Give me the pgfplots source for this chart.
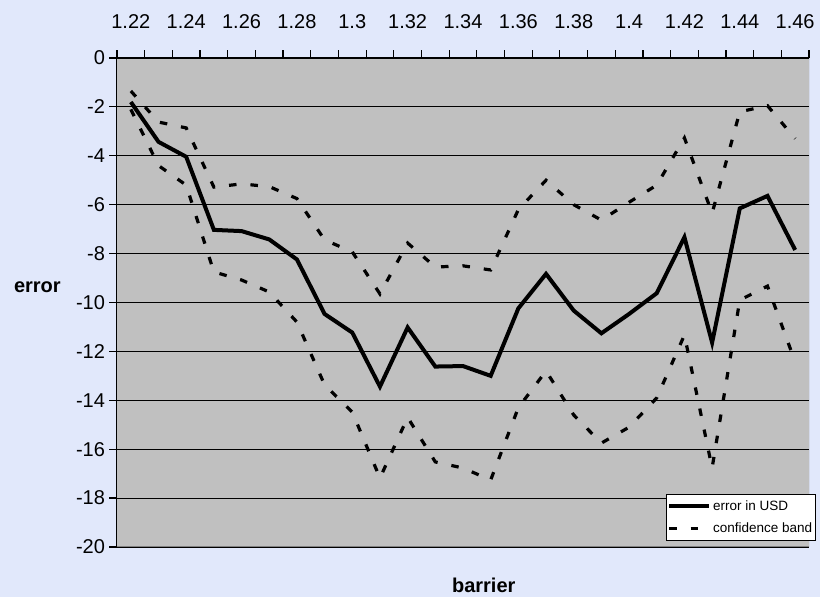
\documentclass[border=0pt]{standalone}
\usepackage{pgfplots}
\pgfplotsset{compat=1.18}
\usepackage{fontspec}
\setmainfont{Liberation Sans}
\definecolor{bg}{RGB}{225,232,251}
\definecolor{plotbg}{RGB}{192,192,192}
\definecolor{frame}{RGB}{128,128,128}
\begin{document}
\begin{tikzpicture}
\fill[bg] (-117pt,-50pt) rectangle (703pt,547pt);
\begin{axis}[
  at={(0,0)}, anchor=south west,
  scale only axis, width=692pt, height=489pt,
  xmin=-0.5, xmax=24.5, ymin=-20, ymax=0,
  axis x line*=top, axis y line*=left,
  axis line style={black, line width=1pt, -},
  axis background/.style={fill=plotbg},
  xtick={-0.5,0.5,...,24.5},
  xticklabels={1.22,,1.24,,1.26,,1.28,,1.3,,1.32,,1.34,,1.36,,1.38,,1.4,,1.42,,1.44,,1.46,},
  xticklabel style={xshift=13.84pt, yshift=18pt},
  yticklabel style={xshift=-1pt},
  ytick={-20,-18,...,0},
  ymajorgrids, grid style={black, line width=0.8pt},
  tick align=outside, major tick length=7.5pt,
  tick style={black, line width=1.2pt},
  /pgf/number format/assume math mode=true,
  ticklabel style={font=\fontsize{20}{24}\selectfont},
  every axis x label/.style={at={(axis description cs:0.530,-0.0777)}, anchor=center},
  every axis y label/.style={at={(axis description cs:-0.115,0.532)}, anchor=center},
  label style={font=\bfseries\fontsize{20}{24}\selectfont},
  xlabel={barrier}, ylabel={error},
  legend style={at={(axis description cs:0.793,0.108)}, anchor=north west,
    draw=black, line width=0.8pt, fill=white, font=\fontsize{13.5}{16}\selectfont,
    inner xsep=1pt, inner ysep=4pt, row sep=7pt, cells={anchor=west}},
  legend image code/.code={\draw[#1] (0pt,0pt) -- (40pt,0pt);},
  legend cell align=left,
]
\addplot[black, line width=4pt] coordinates {
(0,-1.8) (1,-3.43) (2,-4.04) (3,-7.03) (4,-7.08) (5,-7.42) (6,-8.24) (7,-10.47) (8,-11.23) (9,-13.44) (10,-11.02) (11,-12.62) (12,-12.6) (13,-13.0) (14,-10.24) (15,-8.83) (16,-10.33) (17,-11.26) (18,-10.47) (19,-9.62) (20,-7.33) (21,-11.64) (22,-6.15) (23,-5.64) (24,-7.85)};
\addlegendentry{error in USD}
\addplot[black, line width=3.2pt, dash pattern=on 7.5pt off 14pt] coordinates {
(0,-1.35) (1,-2.62) (2,-2.86) (3,-5.28) (4,-5.15) (5,-5.26) (6,-5.75) (7,-7.44) (8,-7.93) (9,-9.65) (10,-7.57) (11,-8.55) (12,-8.5) (13,-8.67) (14,-6.2) (15,-5.0) (16,-6.0) (17,-6.63) (18,-5.9) (19,-5.2) (20,-3.27) (21,-6.35) (22,-2.2) (23,-1.95) (24,-3.3)};
\addlegendentry{confidence band}
\addplot[black, line width=3.2pt, dash pattern=on 7.5pt off 14pt, forget plot] coordinates {
(0,-2.1) (1,-4.4) (2,-5.2) (3,-8.75) (4,-9.08) (5,-9.57) (6,-10.8) (7,-13.37) (8,-14.48) (9,-17.18) (10,-14.7) (11,-16.52) (12,-16.77) (13,-17.26) (14,-14.3) (15,-12.8) (16,-14.6) (17,-15.75) (18,-15.1) (19,-13.9) (20,-11.33) (21,-16.77) (22,-9.9) (23,-9.33) (24,-12.43)};
\draw[frame, line width=1pt] (rel axis cs:0,0) -- (rel axis cs:1,0) -- (rel axis cs:1,1);
\end{axis}
\pgfresetboundingbox
\path[use as bounding box] (-117pt,-50pt) rectangle (703pt,547pt);
\end{tikzpicture}
\end{document}
